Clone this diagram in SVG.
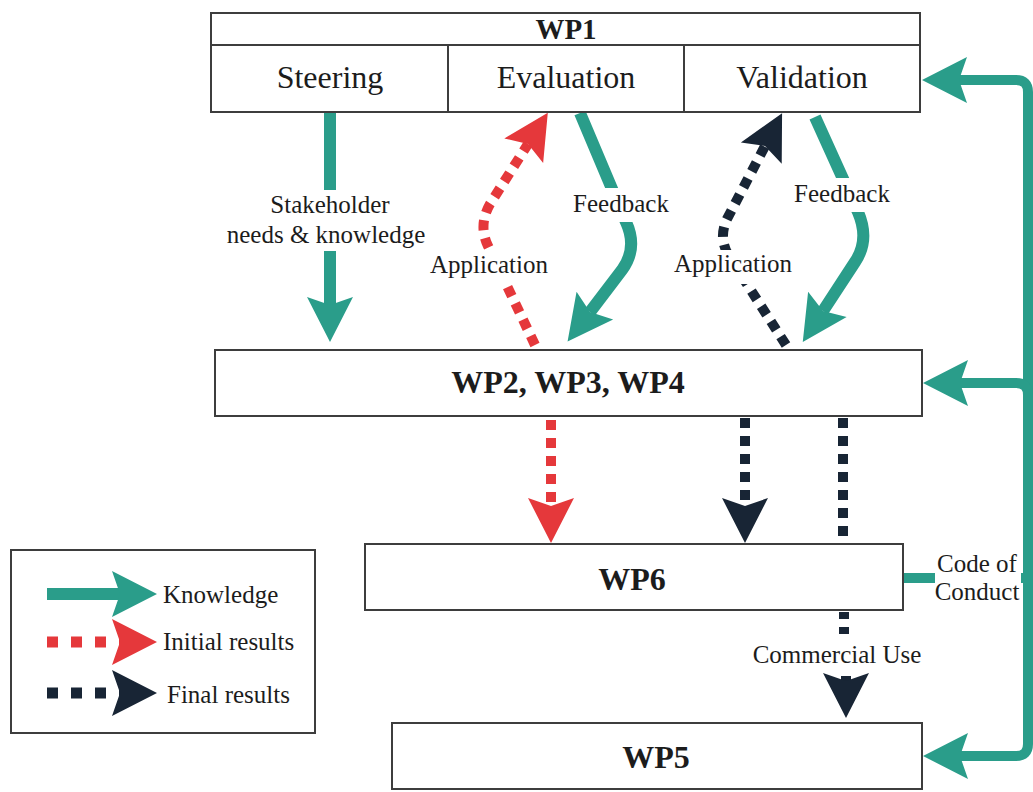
<svg xmlns="http://www.w3.org/2000/svg" width="1033" height="792" viewBox="0 0 1033 792">
  <style>
    .box { fill: #ffffff; stroke: #3d3d3d; stroke-width: 2; }
    .t { font-family: "Liberation Serif", "Times New Roman", serif; fill: #1c1c1c; }
    .cell { font-size: 32px; text-anchor: middle; }
    .wp { font-size: 32px; font-weight: bold; text-anchor: middle; }
    .lbl { font-size: 25px; text-anchor: middle; }
    .leg { font-size: 25px; }
    .teal { fill: none; stroke: #2a9d8a; stroke-width: 12; }
    .teal2 { fill: none; stroke: #2a9d8a; stroke-width: 10; }
    .red { fill: none; stroke: #e5383b; stroke-width: 10; stroke-dasharray: 10 8; }
    .navy { fill: none; stroke: #182535; stroke-width: 10; stroke-dasharray: 10 8; }
    .bg { fill: #ffffff; }
  </style>
  <defs>
    <marker id="ah-teal" markerUnits="userSpaceOnUse" viewBox="-10 -25 50 50" markerWidth="50" markerHeight="50" refX="0" refY="0" orient="auto">
      <path d="M37,0 L-8,-23 L0,0 L-8,23 Z" fill="#2a9d8a"/>
    </marker>
    <marker id="ah-red" markerUnits="userSpaceOnUse" viewBox="-10 -25 50 50" markerWidth="50" markerHeight="50" refX="0" refY="0" orient="auto">
      <path d="M37,0 L-8,-23 L0,0 L-8,23 Z" fill="#e5383b"/>
    </marker>
    <marker id="ah-navy" markerUnits="userSpaceOnUse" viewBox="-10 -25 50 50" markerWidth="50" markerHeight="50" refX="0" refY="0" orient="auto">
      <path d="M37,0 L-8,-23 L0,0 L-8,23 Z" fill="#182535"/>
    </marker>
  </defs>

  <rect width="1033" height="792" fill="#ffffff"/>

  <g id="connectors">
    <!-- Steering -> WP2 -->
    <path class="teal" d="M330 112 L330 190"/>
    <path class="teal" d="M330 251 L330 305" marker-end="url(#ah-teal)"/>
    <!-- Evaluation feedback -->
    <path class="teal" d="M580 113 L626 222 Q638 248 622 270 L590 312" marker-end="url(#ah-teal)"/>
    <!-- Validation feedback -->
    <path class="teal" d="M815 117 L858 212 Q870 240 855 262 L823 311" marker-end="url(#ah-teal)"/>
    <!-- Application (initial) -->
    <path class="red" d="M535 345 L488 246 Q478 225 490 204 L528 144" marker-end="url(#ah-red)"/>
    <!-- Application (final) -->
    <path class="navy" d="M786 345 L729 256 Q718 238 727 219 L765 146" marker-end="url(#ah-navy)"/>
    <!-- WP2 -> WP6 -->
    <path class="red" d="M551 420 L551 506" marker-end="url(#ah-red)"/>
    <path class="navy" d="M745 418 L745 506" marker-end="url(#ah-navy)"/>
    <!-- WP2 -> WP5 Commercial Use -->
    <path class="navy" d="M843 418 L843 544"/>
    <path class="navy" d="M844 612 L844 640" style="stroke-dasharray:7 8"/>
    <path fill="none" stroke="#182535" stroke-width="10" d="M846 676 L846 681" marker-end="url(#ah-navy)"/>
    <!-- Code of Conduct loop -->
    <path class="teal2" d="M903 578 L935 578"/>
    <path class="teal2" d="M1021 578 L1028 578"/>
    <path class="teal2" d="M1028 578 L1028 92 Q1028 80 1016 80 L959 80" marker-end="url(#ah-teal)"/>
    <path class="teal2" d="M1028 578 L1028 395 Q1028 383 1016 383 L960 383" marker-end="url(#ah-teal)"/>
    <path class="teal2" d="M1028 578 L1028 744 Q1028 756 1016 756 L960 756" marker-end="url(#ah-teal)"/>
    <!-- label backgrounds -->
    <rect class="bg" x="428" y="250" width="122" height="34"/>
    <rect class="bg" x="570" y="188" width="102" height="34"/>
    <rect class="bg" x="672" y="250" width="124" height="34"/>
    <rect class="bg" x="792" y="178" width="102" height="34"/>
    <!-- labels -->
    <text class="t lbl" x="330" y="213">Stakeholder</text>
    <text class="t lbl" x="326" y="243">needs &amp; knowledge</text>
    <text class="t lbl" x="489" y="273">Application</text>
    <text class="t lbl" x="621" y="212">Feedback</text>
    <text class="t lbl" x="733" y="272">Application</text>
    <text class="t lbl" x="842" y="202">Feedback</text>
    <text class="t lbl" x="837" y="663">Commercial Use</text>
    <text class="t lbl" x="977" y="572">Code of</text>
    <text class="t lbl" x="977" y="600">Conduct</text>
  </g>

  <g id="wp1">
    <rect class="box" x="211" y="13" width="709" height="99"/>
    <line x1="211" y1="45" x2="920" y2="45" stroke="#3d3d3d" stroke-width="2"/>
    <line x1="448" y1="45" x2="448" y2="112" stroke="#3d3d3d" stroke-width="2"/>
    <line x1="684" y1="45" x2="684" y2="112" stroke="#3d3d3d" stroke-width="2"/>
    <text class="t wp" x="566" y="39" style="font-size:29px">WP1</text>
    <text class="t cell" x="330" y="88">Steering</text>
    <text class="t cell" x="566" y="88">Evaluation</text>
    <text class="t cell" x="802" y="88">Validation</text>
  </g>

  <g id="wp234">
    <rect class="box" x="215" y="350" width="707" height="66"/>
    <text class="t wp" x="568" y="393">WP2, WP3, WP4</text>
  </g>

  <g id="wp6">
    <rect class="box" x="365" y="544" width="538" height="66"/>
    <text class="t wp" x="632" y="590">WP6</text>
  </g>

  <g id="wp5">
    <rect class="box" x="392" y="723" width="530" height="66"/>
    <text class="t wp" x="656" y="768">WP5</text>
  </g>

  <g id="legend">
    <rect class="box" x="11" y="550" width="304" height="183"/>
    <path class="teal" d="M47 594 L120 594" marker-end="url(#ah-teal)"/>
    <path fill="none" stroke="#e5383b" stroke-width="11" stroke-dasharray="11 13" d="M47 642 L120 642" marker-end="url(#ah-red)"/>
    <path fill="none" stroke="#182535" stroke-width="11" stroke-dasharray="11 13" d="M47 693 L120 693" marker-end="url(#ah-navy)"/>
    <text class="t leg" x="163" y="603">Knowledge</text>
    <text class="t leg" x="163" y="650">Initial results</text>
    <text class="t leg" x="167" y="703">Final results</text>
  </g>
</svg>
